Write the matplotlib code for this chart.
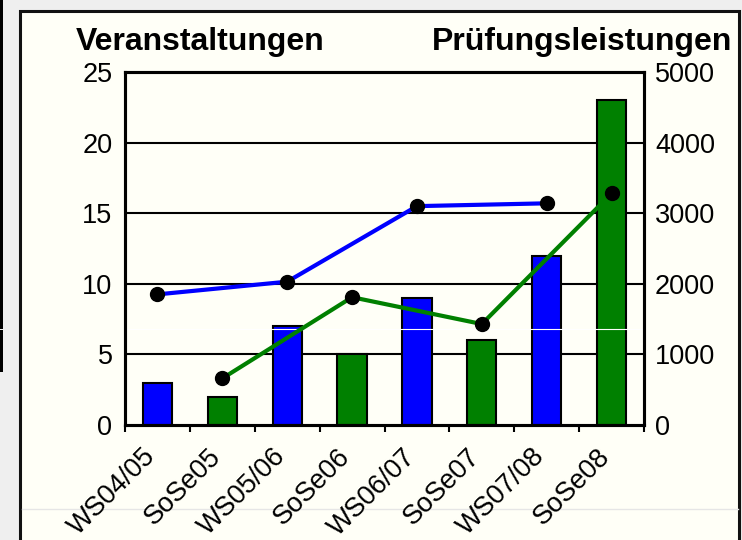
import matplotlib
matplotlib.use("Agg")
import matplotlib.pyplot as plt
from matplotlib.patches import Rectangle
from matplotlib.lines import Line2D
import matplotlib.transforms as mtransforms
import numpy as np

plt.rcParams['font.family'] = ['Liberation Sans', 'DejaVu Sans']

categories = ["WS04/05", "SoSe05", "WS05/06", "SoSe06", "WS06/07", "SoSe07", "WS07/08", "SoSe08"]
veranstaltungen = [3, 2, 7, 5, 9, 6, 12, 23]
bar_colors = ["#0000ff", "#008000"] * 4

ws_idx = [0, 2, 4, 6]
ws_pruefungen = [1850, 2030, 3100, 3140]
sose_idx = [1, 3, 5, 7]
sose_pruefungen = [660, 1810, 1430, 3280]

left_ticks = [0, 5, 10, 15, 20, 25]
right_ticks = [0, 1000, 2000, 3000, 4000, 5000]

W, H = 742, 540
fig = plt.figure(figsize=(W / 100, H / 100), dpi=100)
fig.patch.set_facecolor("#efefef")

def px(x, y, w, h):
    return (x / W, 1 - (y + h) / H, w / W, h / H)

# panel
bx, by, bw, bh = px(20, 11, 719, 560)
fig.patches.append(Rectangle((bx, by), bw, bh, transform=fig.transFigure,
                             facecolor="#fffff7", edgecolor="#111111", lw=2.2, zorder=-5))
# left black strip artifact
sx, sy, sw, sh = px(0, 0, 2.5, 329)
fig.patches.append(Rectangle((sx, sy), sw, sh, transform=fig.transFigure,
                             facecolor="black", edgecolor="none", zorder=-5))
sx, sy, sw, sh = px(0, 330, 2.5, 42)
fig.patches.append(Rectangle((sx, sy), sw, sh, transform=fig.transFigure,
                             facecolor="black", edgecolor="none", zorder=-5))
# faint line near bottom
fig.lines.append(Line2D([22 / W, 738 / W], [1 - 509 / H] * 2, transform=fig.transFigure,
                        color="#e6e6e6", lw=1.0, zorder=-4))

ax = fig.add_axes([125 / W, 1 - 425 / H, (644 - 125) / W, (425 - 72) / H])
ax.set_facecolor("none")
ax2 = ax.twinx()

x = np.arange(len(categories))
ax.bar(x, veranstaltungen, width=0.45, color=bar_colors, edgecolor="black", lw=1.5, zorder=2)
ax.set_xlim(-0.5, len(categories) - 0.5)
ax.set_ylim(0, 25)
ax.set_yticks(left_ticks)
for t in left_ticks[1:-1]:
    ax.axhline(t, color="black", lw=1.5, zorder=1)
ax.axhline(6.8, color="white", lw=0.8, zorder=2.5)

ax2.set_ylim(0, 5000)
ax2.set_yticks(right_ticks)
ax2.plot(ws_idx, ws_pruefungen, color="#0000ff", lw=3, zorder=3)
ax2.plot(sose_idx, sose_pruefungen, color="#008000", lw=3, zorder=3)
ax2.plot(ws_idx + sose_idx, ws_pruefungen + sose_pruefungen, ls="none", marker="o",
         ms=10, color="black", zorder=4)

for a in (ax, ax2):
    for s in a.spines.values():
        s.set_linewidth(2.2)
        s.set_color("black")

ax.tick_params(axis="y", length=0, labelsize=19.5, pad=9)
ax2.tick_params(axis="y", length=0, labelsize=19.5, pad=8)
ax.set_xticks(np.arange(-0.5, len(categories), 1.0))
ax.set_xticklabels([])
ax.tick_params(axis="x", length=5, width=1.5, direction="out")

offset = mtransforms.ScaledTranslation(-4 / 72, -20 / 72, fig.dpi_scale_trans)
for i, c in enumerate(categories):
    ax.text(i, 0, c, rotation=45, rotation_mode="anchor", ha="right", va="center",
            fontsize=19.5, transform=ax.transData + offset, clip_on=False)

fig.text(200 / W, 1 - 42 / H, "Veranstaltungen", ha="center", va="center",
         fontsize=23, fontweight="bold")
fig.text(582 / W, 1 - 42 / H, "Prüfungsleistungen", ha="center", va="center",
         fontsize=23, fontweight="bold")

fig.savefig("out.png", dpi=100, facecolor=fig.get_facecolor())
